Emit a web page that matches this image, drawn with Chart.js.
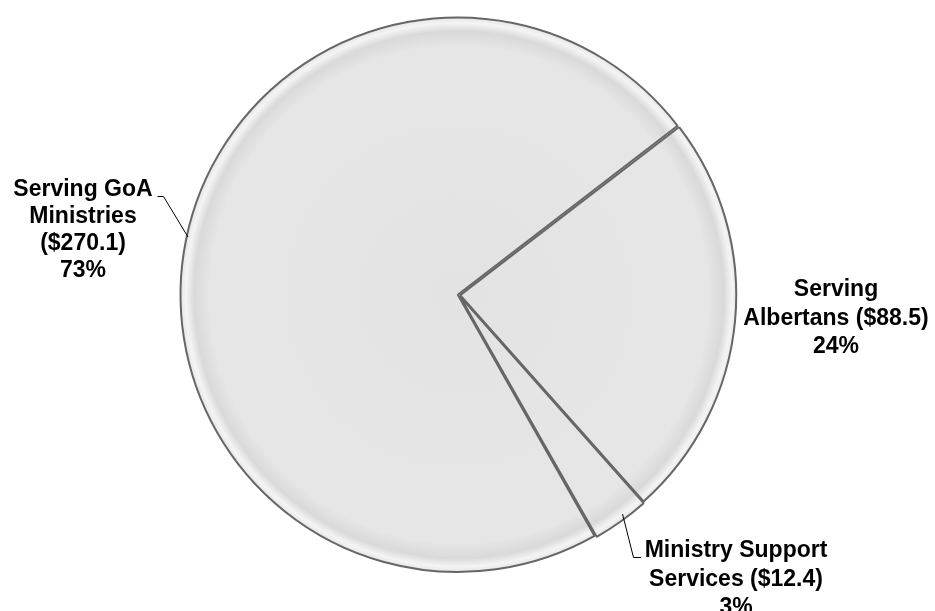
<!DOCTYPE html>
<html>
<head>
<meta charset="utf-8">
<script src="https://cdn.jsdelivr.net/npm/chart.js@4"></script>
<style>
  html, body { margin: 0; padding: 0; background: #fff; }
  #wrap { width: 935px; height: 611px; }
</style>
</head>
<body>
<div id="wrap"><canvas id="pie" width="935" height="611"></canvas></div>
<script>
// data ($ millions)
const categories = ['Serving GoA Ministries', 'Serving Albertans', 'Ministry Support Services'];
const values = [270.1, 88.5, 12.4];
const percents = [73, 24, 3];

// how each label is broken into lines
const labelLines = [
    ['Serving GoA', 'Ministries', '($' + values[0].toFixed(1) + ')', percents[0] + '%'],
    ['Serving', 'Albertans ($' + values[1].toFixed(1) + ')', percents[1] + '%'],
    ['Ministry Support', 'Services ($' + values[2].toFixed(1) + ')', percents[2] + '%']
];

const RADIUS = 276;

// soft bevel look: flat grey with a darker band and highlight near the rim
function sliceFill(ctx) {
    const chart = ctx.chart;
    const area = chart.chartArea;
    if (!area) return '#e6e6e6';
    const cx = (area.left + area.right) / 2;
    const cy = (area.top + area.bottom) / 2;
    const g = chart.ctx.createRadialGradient(cx, cy, 0, cx, cy, RADIUS);
    g.addColorStop(0, '#e3e3e3');
    g.addColorStop(0.9, '#e6e6e6');
    g.addColorStop(0.955, '#d9d9d9');
    g.addColorStop(0.985, '#f4f4f4');
    g.addColorStop(1, '#e9e9e9');
    return g;
}

const pieLabels = {
    id: 'pieLabels',
    afterDraw(chart, args, opts) {
        const c = chart.ctx;
        c.save();
        c.fillStyle = '#000';
        c.font = 'bold 23px "Liberation Sans", Arial, sans-serif';
        c.textAlign = 'center';
        c.textBaseline = 'middle';
        opts.spots.forEach((s, i) => {
            labelLines[i].forEach((t, k) => c.fillText(t, s.x, s.y + k * s.lh));
            if (s.leader) {
                c.strokeStyle = '#000';
                c.lineWidth = 1;
                c.beginPath();
                c.moveTo(s.leader[0][0], s.leader[0][1]);
                for (let j = 1; j < s.leader.length; j++) c.lineTo(s.leader[j][0], s.leader[j][1]);
                c.stroke();
            }
        });
        c.restore();
    }
};

new Chart(document.getElementById('pie'), {
    type: 'pie',
    data: {
        labels: categories,
        datasets: [{
            data: values,
            backgroundColor: sliceFill,
            borderColor: '#666666',
            borderWidth: 2,
            offset: 5
        }]
    },
    options: {
        responsive: false,
        animation: false,
        rotation: 150.4,
        radius: RADIUS,
        layout: { padding: { left: 0, right: 17, top: 0, bottom: 21 } },
        plugins: {
            legend: { display: false },
            tooltip: { enabled: false },
            pieLabels: {
                spots: [
                    { x: 83, y: 190, lh: 27, leader: [[157.5, 196.5], [163.5, 196.5], [188, 237]] },
                    { x: 836, y: 290, lh: 28.5 },
                    { x: 736, y: 551, lh: 28.5, leader: [[622.5, 514], [633.5, 557.5], [641, 557.5]] }
                ]
            }
        }
    },
    plugins: [pieLabels]
});
</script>
</body>
</html>
